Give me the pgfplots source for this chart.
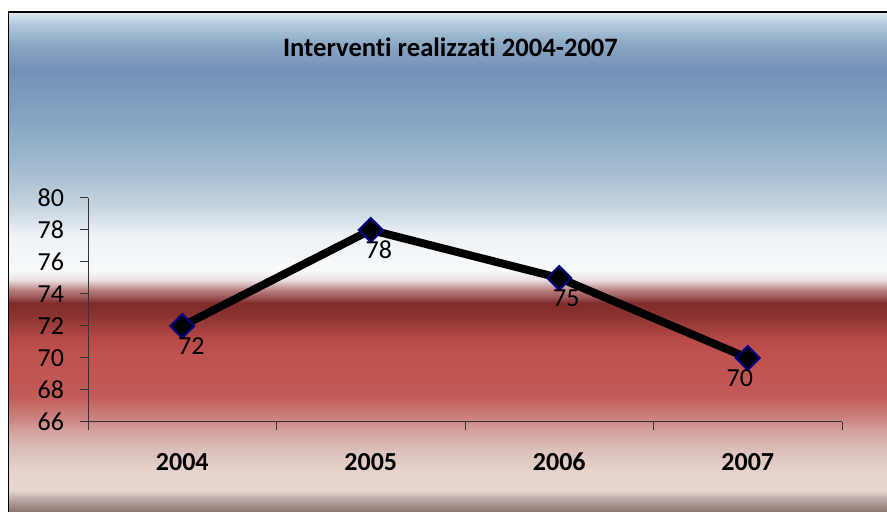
\documentclass[border=0pt]{standalone}
\usepackage{pgfplots}
\pgfplotsset{compat=1.18}
\usepackage{fontspec}
\setmainfont{Carlito}[Ligatures=NoCommon]
\definecolor{cA}{HTML}{8A7470}
\definecolor{cB}{HTML}{B8A4A0}
\definecolor{cC}{HTML}{E8D8D2}
\definecolor{cD}{HTML}{E6D2CC}
\definecolor{cE}{HTML}{DCC0BB}
\definecolor{cE2}{HTML}{D4A09C}
\definecolor{cF}{HTML}{CD8684}
\definecolor{cG}{HTML}{C15A57}
\definecolor{cH}{HTML}{C0524F}
\definecolor{cH2}{HTML}{B84B48}
\definecolor{cI}{HTML}{8A3331}
\definecolor{cJ}{HTML}{802C2B}
\definecolor{cJ2}{HTML}{985050}
\definecolor{cK}{HTML}{B88080}
\definecolor{cL}{HTML}{EBE0E0}
\definecolor{cM}{HTML}{F8FAFB}
\definecolor{cN}{HTML}{EEF2F6}
\definecolor{cO}{HTML}{CAD7E2}
\definecolor{cP}{HTML}{A4BCD0}
\definecolor{cQ}{HTML}{84A6C2}
\definecolor{cR}{HTML}{7A97BB}
\definecolor{cS}{HTML}{7590B8}
\definecolor{cT}{HTML}{8AA6C4}
\definecolor{cU}{HTML}{B0C8DA}
\definecolor{cV}{HTML}{DCE9F3}
\definecolor{mkblue}{HTML}{000080}
\pgfdeclareverticalshading{bgshade}{100bp}{color(0bp)=(cA); color(25bp)=(cA); color(26.2bp)=(cB); color(27.2bp)=(cC); color(29.2bp)=(cD); color(31.2bp)=(cE); color(33.2bp)=(cE2); color(34.2bp)=(cF); color(36.7bp)=(cG); color(40.7bp)=(cH); color(42.2bp)=(cH2); color(44.7bp)=(cI); color(45.9bp)=(cJ); color(46.4bp)=(cJ2); color(47.2bp)=(cK); color(48.2bp)=(cL); color(49.2bp)=(cM); color(52.7bp)=(cN); color(55.2bp)=(cO); color(59.2bp)=(cP); color(64.2bp)=(cQ); color(67.7bp)=(cR); color(69.2bp)=(cS); color(71.7bp)=(cT); color(73.7bp)=(cU); color(75bp)=(cV); color(100bp)=(cV)}
\pgfplotstableread{
x y dx
0 72 4.5
1 78 4
2 75 3.5
3 70 -4
}\datatab
\begin{document}
\begin{tikzpicture}[x=1pt,y=1pt]
\useasboundingbox (0,0) rectangle (443.5,256);
\fill[white] (0,0) rectangle (443.5,256);
\shade[shading=bgshade] (4.25,0) rectangle (443.5,250);
\draw[black, line width=0.6pt] (4.25,0) -- (4.25,250) -- (443.5,250);
\node[font=\bfseries\fontsize{13.3}{15}\selectfont] at (225.25,232.5) {Interventi realizzati 2004-2007};
\begin{axis}[
  at={(44pt,45pt)}, anchor=south west,
  scale only axis, width=377pt, height=112pt,
  xmin=-0.5, xmax=3.5, ymin=66, ymax=80,
  axis x line*=bottom, axis y line*=left,
  axis line style={black!80, line width=0.5pt},
  xtick={0,1,2,3}, xticklabels={2004,2005,2006,2007},
  minor xtick={-0.5,0.5,1.5,2.5,3.5},
  ytick={66,68,...,80},
  tick align=outside,
  major tick length=4pt, minor tick length=4pt,
  major x tick style={draw=none},
  tick style={black!80, line width=0.5pt},
  /pgf/number format/assume math mode=true,
  yticklabel style={font=\fontsize{13}{15}\selectfont, xshift=-4.5pt},
  xticklabel style={font=\bfseries\fontsize{13}{15}\selectfont, yshift=-8pt},
  clip=false,
]
\addplot[black, line width=4pt, mark=square*, mark size=4.2pt,
  mark options={fill=black, draw=mkblue, line width=1pt, rotate=45},
  nodes near coords,
  visualization depends on={\thisrow{dx} \as \dx},
  every node near coord/.append style={font=\fontsize{13}{15}\selectfont, anchor=center, xshift=\dx pt, yshift=-10pt, text=black}
] table[x=x, y=y] {\datatab};
\end{axis}
\end{tikzpicture}
\end{document}
